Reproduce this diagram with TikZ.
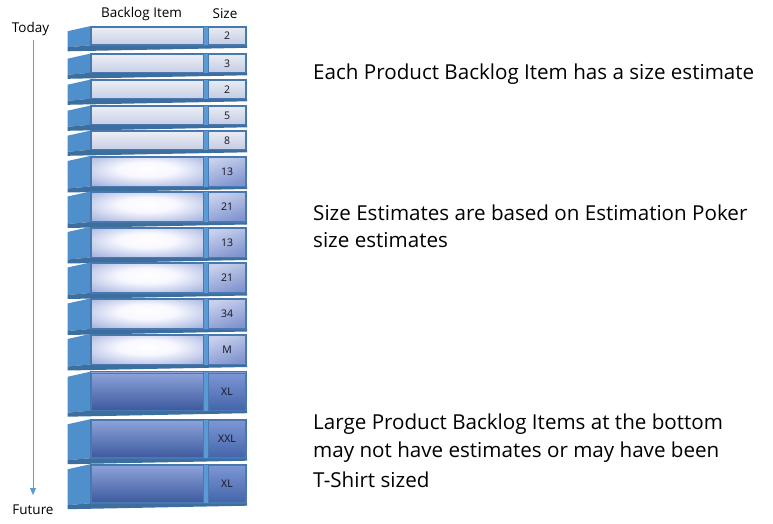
\documentclass[tikz,border=0pt]{standalone}
\usepackage{fontspec}
\setmainfont{Open Sans}
\usetikzlibrary{arrows.meta}
\definecolor{leftface}{HTML}{4F8FCC}
\definecolor{bottomface}{HTML}{3C6E9E}
\definecolor{plate}{HTML}{4677AD}
\definecolor{gapblue}{HTML}{5B9BD5}
\definecolor{edgeblue}{HTML}{4A78B0}
\definecolor{medout}{HTML}{6A80C5}
\definecolor{medmid}{HTML}{B9C4E6}
\definecolor{arrowblue}{HTML}{5B9BD5}
\pgfdeclareradialshading{medglow}{\pgfpoint{0bp}{5bp}}{color(0bp)=(white); color(13bp)=(white!97!blue); color(30bp)=(medmid); color(50bp)=(medout); color(70bp)=(medout)}
\tikzset{
  faces/.style={top color={rgb,255:red,236;green,238;blue,245}, bottom color={rgb,255:red,200;green,207;blue,230}},
  facem/.style={shading=medglow},
  facel/.style={top color={rgb,255:red,140;green,162;blue,218}, bottom color={rgb,255:red,61;green,90;blue,158}},
  sizebase/.style={draw=edgeblue, line width=0.6pt, minimum width=37pt, inner sep=0pt, font=\fontsize{10.5}{12}\selectfont, text={rgb,255:red,20;green,20;blue,30}},
  sizes/.style={sizebase, top color={rgb,255:red,232;green,235;blue,244}, bottom color={rgb,255:red,196;green,204;blue,228}},
  sizem/.style={sizebase, shading=axis, top color={rgb,255:red,200;green,208;blue,236}, bottom color={rgb,255:red,128;green,148;blue,207}, shading angle=20},
  sizel/.style={sizebase, top color={rgb,255:red,125;green,150;blue,213}, bottom color={rgb,255:red,68;green,101;blue,171}},
  header/.style={font=\fontsize{13.5}{16}\selectfont, inner sep=0pt},
  note/.style={font=\fontsize{20.6}{24}\selectfont, anchor=west, inner sep=0pt},
}
\newcommand\bkbox[5]{%
  \pgfmathsetmacro\bkT{#2-#3}%
  \pgfmathsetmacro\bkB{#2+#3}%
  \fill[leftface] (67.5,\bkT+4.5) -- (90,\bkT-0.5) -- (90,\bkB) -- (67.5,\bkB+2) -- cycle;
  \fill[bottomface] (67.5,\bkB+2) -- (90,\bkB) -- (247,\bkB) -- (247,\bkB+2.5) -- (67.5,\bkB+6) -- cycle;
  \fill[plate] (90,\bkT-1) rectangle (247,\bkB+0.5);
  \fill[gapblue] (203.5,\bkT) rectangle (207.5,\bkB);
  \path[face#5, draw=edgeblue, line width=0.6pt] (91,\bkT+0.5) rectangle (203,\bkB-0.5);
  \node[size#5, minimum height={2*#3-1}] (#1) at (227,#2) {#4};
}
\begin{document}
\begin{tikzpicture}[x=1pt,y=-1pt]
\useasboundingbox (0,0) rectangle (773,524);
\fill[white] (0,0) rectangle (773,524);
% headers
\node[header] (hitem) at (141.5,14) {Backlog Item};
\node[header] (hsize) at (225,14) {Size};
\node[header] (today) at (30.5,29) {Today};
\node[header] (future) at (33,510) {Future};
\coordinate (astart) at (33,40);
\coordinate (aend) at (33,495);
\draw[arrowblue, line width=0.9pt, -{Triangle[width=6pt,length=7pt]}] (astart) -- (aend);
% boxes
\bkbox{b1}{36}{9.3}{2}{s}
\bkbox{b2}{63.5}{9.3}{3}{s}
\bkbox{b3}{89.5}{9.3}{2}{s}
\bkbox{b4}{115.5}{9.3}{5}{s}
\bkbox{b5}{140.5}{9.3}{8}{s}
\bkbox{b6}{171.5}{15}{13}{m}
\bkbox{b7}{207}{15}{21}{m}
\bkbox{b8}{242.5}{15}{13}{m}
\bkbox{b9}{278}{15}{21}{m}
\bkbox{b10}{314}{15}{34}{m}
\bkbox{b11}{349.5}{15}{M}{m}
\bkbox{b12}{391.5}{19.2}{XL}{l}
\bkbox{b13}{439}{19.2}{XXL}{l}
\bkbox{b14}{484}{19.2}{XL}{l}
% notes
\node[note] (n1) at (313,74) {Each Product Backlog Item has a size estimate};
\node[note] (n2a) at (313,213) {Size Estimates are based on Estimation Poker};
\node[note] (n2b) at (313,240) {size estimates};
\node[note] (n3a) at (313,424) {Large Product Backlog Items at the bottom};
\node[note] (n3b) at (313,452) {may not have estimates or may have been};
\node[note] (n3c) at (313,480) {T-Shirt sized};
\end{tikzpicture}
\end{document}
